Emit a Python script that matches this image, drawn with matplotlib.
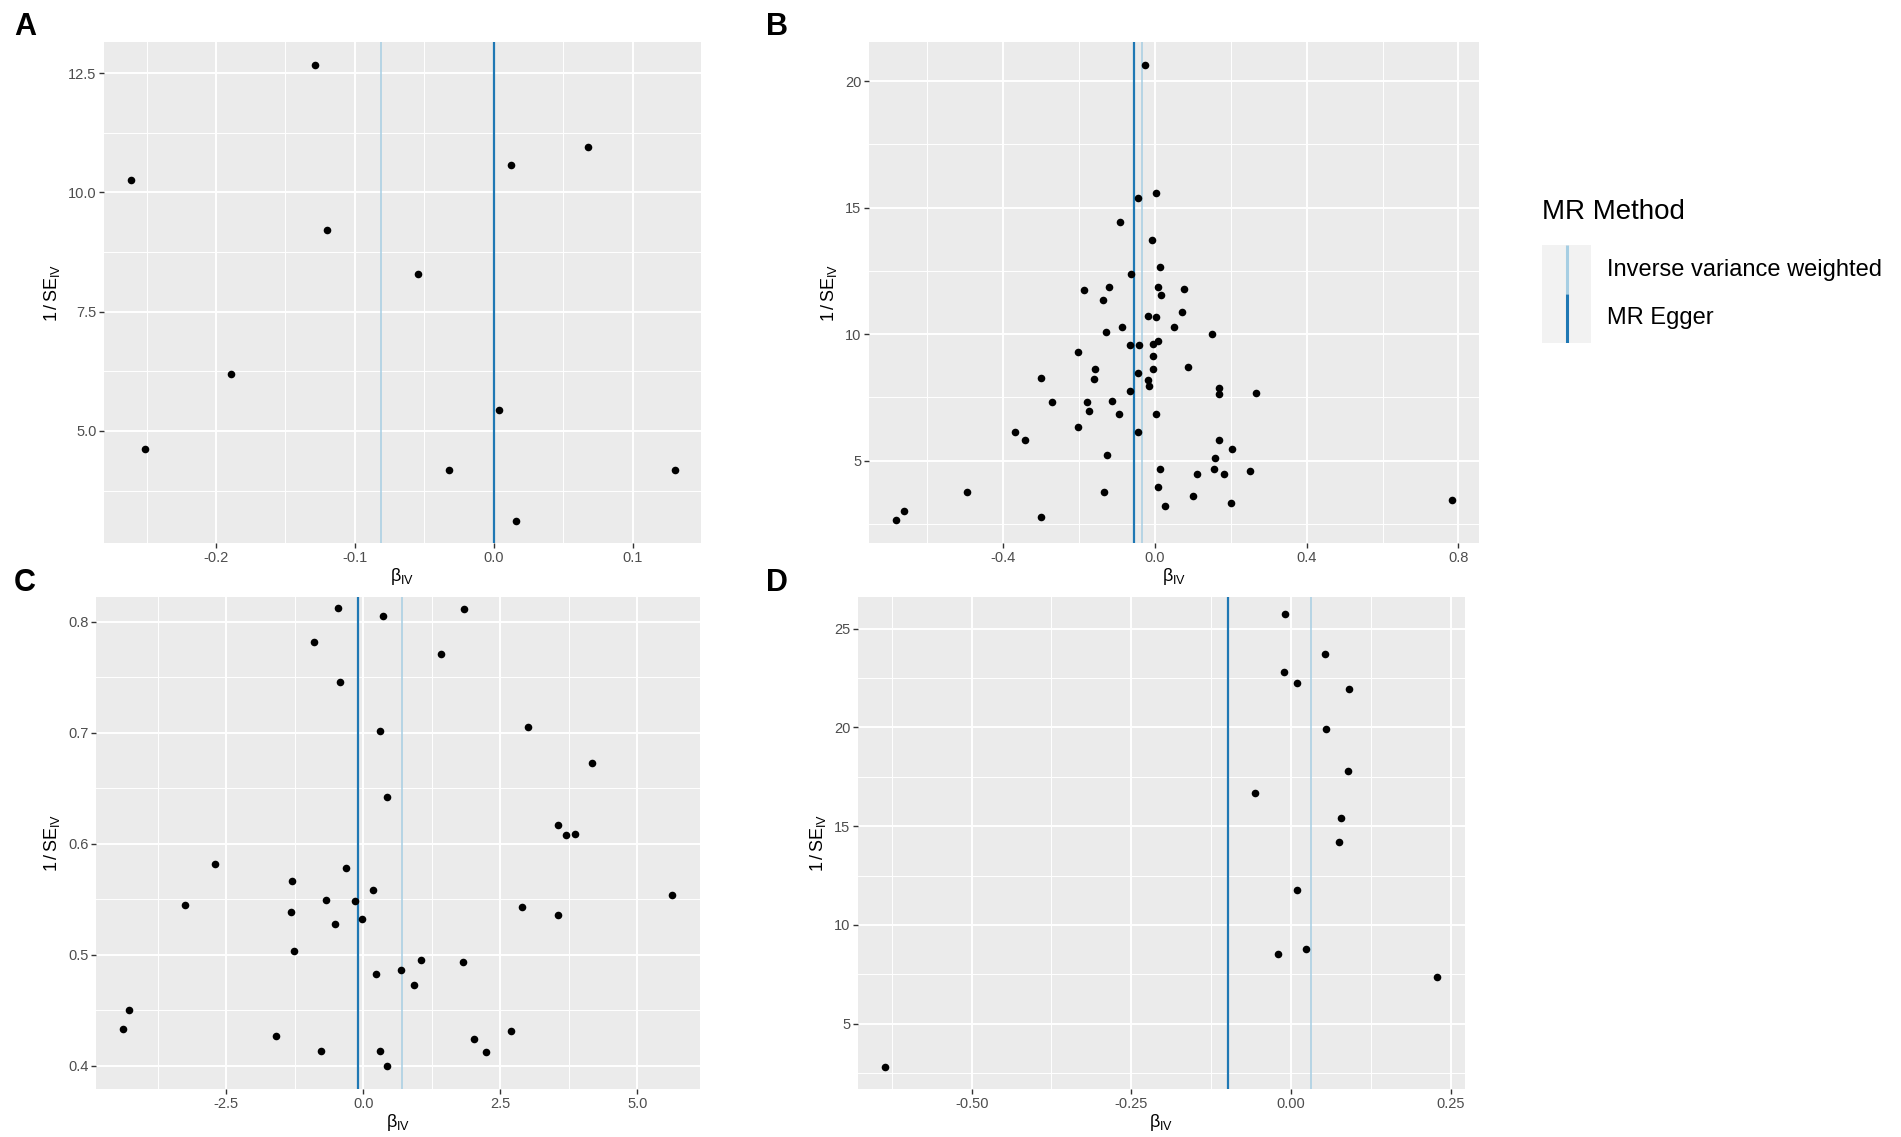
import matplotlib.pyplot as plt

plt.rcParams['font.family'] = ['Liberation Sans', 'DejaVu Sans']
plt.rcParams['mathtext.fontset'] = 'custom'
plt.rcParams['mathtext.rm'] = 'Liberation Sans'
plt.rcParams['mathtext.it'] = 'Liberation Sans'
plt.rcParams['axes.unicode_minus'] = False

methods = ["Inverse variance weighted", "MR Egger"]
method_colors = ["#A6CEE3", "#1F78B4"]

# panel A
a_beta = [-0.261, -0.251, -0.189, -0.129, -0.120, -0.055, -0.032, 0.004, 0.012, 0.016, 0.068, 0.130]
a_inv_se = [10.26, 4.63, 6.20, 12.66, 9.22, 8.28, 4.18, 5.44, 10.57, 3.11, 10.94, 4.19]
a_methods = [-0.081, 0.0]

# panel B
b_beta = [-0.025, 0.003, -0.045, -0.090, -0.008, 0.015, -0.061, -0.185, -0.120, -0.136,
          0.009, 0.077, 0.016, 0.072, -0.018, 0.003, -0.085, 0.052, -0.127, 0.150,
          -0.064, -0.040, -0.003, 0.008, -0.203, -0.003, -0.158, -0.003, 0.087, -0.044,
          -0.299, -0.159, -0.018, -0.015, 0.169, 0.169, 0.267, -0.066, -0.271, -0.177,
          -0.111, -0.174, -0.095, 0.003, -0.203, -0.368, -0.044, -0.342, 0.170, 0.204,
          -0.126, 0.159, 0.013, 0.155, 0.112, 0.183, 0.252, 0.008, -0.494, -0.132,
          0.101, 0.200, 0.026, 0.782, -0.299, -0.660, -0.680]
b_inv_se = [20.66, 15.59, 15.38, 14.43, 13.71, 12.65, 12.39, 11.74, 11.85, 11.36,
            11.85, 11.79, 11.53, 10.88, 10.73, 10.69, 10.28, 10.28, 10.07, 9.99,
            9.55, 9.57, 9.60, 9.71, 9.30, 9.13, 8.62, 8.62, 8.68, 8.46,
            8.27, 8.23, 8.17, 7.95, 7.86, 7.65, 7.67, 7.75, 7.31, 7.31,
            7.37, 6.97, 6.86, 6.86, 6.31, 6.14, 6.14, 5.81, 5.82, 5.46,
            5.21, 5.12, 4.67, 4.66, 4.47, 4.46, 4.60, 3.96, 3.75, 3.75,
            3.58, 3.34, 3.21, 3.45, 2.77, 3.00, 2.64]
b_methods = [-0.034, -0.054]

# panel C
c_beta = [-0.452, 0.360, 1.843, -0.888, 1.424, -0.427, 0.300, 3.015, 4.180, 0.427,
          3.550, 3.710, 3.870, -2.697, -0.310, -1.298, 0.184, -3.250, -0.687, -0.151,
          -1.323, 2.890, 5.636, 3.560, -0.025, -0.511, -1.256, 1.055, 1.826, 0.687,
          0.226, 0.930, -4.280, -4.390, -1.590, 2.700, 2.030, -0.762, 0.310, 2.245, 0.427]
c_inv_se = [0.8124, 0.8053, 0.8113, 0.782, 0.771, 0.7454, 0.7013, 0.705, 0.673, 0.642,
            0.6167, 0.608, 0.609, 0.5816, 0.578, 0.5666, 0.558, 0.5447, 0.549, 0.548,
            0.5384, 0.5427, 0.5534, 0.536, 0.5324, 0.528, 0.5033, 0.495, 0.4937, 0.486,
            0.4827, 0.4726, 0.450, 0.4334, 0.4269, 0.4312, 0.4239, 0.4129, 0.4129, 0.4122, 0.400]
c_methods = [0.712, -0.092]

# panel D
d_beta = [-0.010, 0.053, -0.011, 0.009, 0.091, 0.055, 0.089, -0.056, 0.078, 0.075,
          0.010, 0.024, -0.020, 0.229, -0.636]
d_inv_se = [25.72, 23.74, 22.80, 22.24, 21.93, 19.94, 17.80, 16.67, 15.39, 14.19,
            11.78, 8.80, 8.54, 7.37, 2.83]
d_methods = [0.032, -0.098]

W, H = 1901, 1137
fig = plt.figure(figsize=(W / 100, H / 100), dpi=100)


def box(left, top, right, bottom):
    return [left / W, 1 - bottom / H, (right - left) / W, (bottom - top) / H]


def funnel(rect, x, y, lines, xlim, ylim, xticks, xlabels, yticks, ylabels):
    ax = fig.add_axes(rect)
    ax.set_facecolor("#EBEBEB")
    for s in ax.spines.values():
        s.set_visible(False)
    for val, col, lw in zip(lines, method_colors, [1.1, 1.6]):
        ax.axvline(val, color=col, lw=lw, zorder=2)
    ax.scatter(x, y, s=30, color="black", zorder=3, linewidths=0)
    ax.set_xlim(xlim)
    ax.set_ylim(ylim)
    ax.set_xticks(xticks, xlabels)
    ax.set_yticks(yticks, ylabels)
    xs = xticks[1] - xticks[0]
    ys = yticks[1] - yticks[0]
    xminor = [t - xs / 2 for t in xticks] + [xticks[-1] + xs / 2]
    yminor = [t - ys / 2 for t in yticks] + [yticks[-1] + ys / 2]
    ax.set_xticks([t for t in xminor if xlim[0] < t < xlim[1]], minor=True)
    ax.set_yticks([t for t in yminor if ylim[0] < t < ylim[1]], minor=True)
    ax.grid(which="major", color="white", lw=1.4)
    ax.grid(which="minor", color="white", lw=0.7)
    ax.set_axisbelow(True)
    ax.tick_params(which="major", length=3.5, width=1, color="#333333",
                   labelcolor="#4D4D4D", labelsize=10.5, pad=2)
    ax.tick_params(which="minor", length=0)
    ax.set_xlabel(r"$\beta_{\mathrm{IV}}$", fontsize=13, labelpad=1)
    ax.set_ylabel(r"$1\,/\,\mathrm{SE}_{\mathrm{IV}}$", fontsize=13, labelpad=4)
    return ax


funnel(box(104, 42, 701, 543), a_beta, a_inv_se, a_methods, (-0.2806, 0.149), (2.65, 13.15),
       [-0.2, -0.1, 0.0, 0.1], ["-0.2", "-0.1", "0.0", "0.1"],
       [5.0, 7.5, 10.0, 12.5], ["5.0", "7.5", "10.0", "12.5"])
funnel(box(869, 42, 1479, 543), b_beta, b_inv_se, b_methods, (-0.752, 0.854), (1.74, 21.55),
       [-0.4, 0.0, 0.4, 0.8], ["-0.4", "0.0", "0.4", "0.8"],
       [5, 10, 15, 20], ["5", "10", "15", "20"])
funnel(box(96, 597, 700, 1089), c_beta, c_inv_se, c_methods, (-4.875, 6.147), (0.379, 0.8224),
       [-2.5, 0.0, 2.5, 5.0], ["-2.5", "0.0", "2.5", "5.0"],
       [0.4, 0.5, 0.6, 0.7, 0.8], ["0.4", "0.5", "0.6", "0.7", "0.8"])
funnel(box(858, 597, 1465, 1089), d_beta, d_inv_se, d_methods, (-0.678, 0.2725), (1.70, 26.6),
       [-0.5, -0.25, 0.0, 0.25], ["-0.50", "-0.25", "0.00", "0.25"],
       [5, 10, 15, 20, 25], ["5", "10", "15", "20", "25"])

for letter, px, py in [("A", 14, 27), ("B", 766, 27), ("C", 14, 583), ("D", 766, 583)]:
    fig.text(px / W, 1 - py / H, letter, fontsize=22, fontweight="bold", va="center", ha="left")

# legend
fig.text(1542 / W, 1 - 212 / H, "MR Method", fontsize=20, va="center", ha="left")
key = fig.add_axes(box(1542, 245, 1591, 343))
key.set_facecolor("#F2F2F2")
for s in key.spines.values():
    s.set_visible(False)
key.set_xticks([])
key.set_yticks([])
key.set_xlim(0, 1)
key.set_ylim(0, len(methods))
for i, (name, col) in enumerate(zip(methods, method_colors)):
    lo = len(methods) - 1 - i
    key.plot([0.5, 0.5], [lo, lo + 1], color=col, lw=2.2, solid_capstyle="butt")
    fig.text(1607 / W, 1 - (270 + 48 * i) / H, name, fontsize=17, va="center", ha="left")

fig.savefig("out.png", dpi=100)
